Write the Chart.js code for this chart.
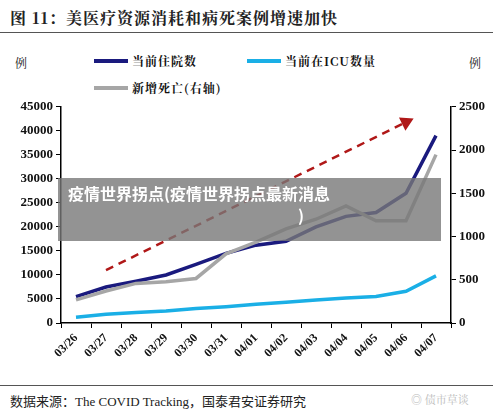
<!DOCTYPE html>
<html>
<head>
<meta charset="utf-8">
<script src="https://cdn.jsdelivr.net/npm/chart.js@4"></script>
<style>
    body { margin: 0; width: 500px; height: 419px; background: #fff; position: relative; overflow: hidden; font-family: "Noto Serif CJK SC", "Noto Sans CJK SC", serif; }
    .title { position: absolute; left: 10px; top: 6px; font-size: 16px; font-weight: bold; color: #222; letter-spacing: 1px; }
    .rule { position: absolute; left: 0; width: 493px; height: 1px; background: #555; }
    .unit { position: absolute; top: 54px; font-size: 12px; color: #222; }
    .legend { position: absolute; font-size: 12px; color: #111; display: flex; align-items: center; letter-spacing: 1px; font-weight: bold; }
    .legend span.sw { display: inline-block; width: 34px; height: 4px; margin-right: 4px; }
    .source { position: absolute; left: 10px; top: 391px; font-size: 13px; color: #222; font-family: "Liberation Serif", "Noto Sans CJK SC", serif; }
    .wm { position: absolute; left: 411px; top: 391px; font-size: 11px; color: #bbb; }
    #wrap { position: absolute; left: 0; top: 96px; width: 500px; height: 284px; }
    .band { position: absolute; left: 58px; top: 178px; width: 383px; height: 63px; background: rgba(120,120,120,0.8); }
    .band div { color: #fff; font-weight: bold; font-size: 16px; font-family: "Noto Sans CJK SC", sans-serif; padding-left: 10px; line-height: 22px; margin-top: 4px; }
</style>
</head>
<body>
<div class="title">图 11：美医疗资源消耗和病死案例增速加快</div>
<div class="rule" style="top:32px"></div>
<div class="unit" style="left:15px">例</div>
<div class="unit" style="left:469px">例</div>
<div class="legend" style="left:94px; top:52px"><span class="sw" style="background:#1a1a7e"></span>当前住院数</div>
<div class="legend" style="left:247px; top:52px"><span class="sw" style="background:#1aafe6"></span>当前在ICU数量</div>
<div class="legend" style="left:94px; top:79px"><span class="sw" style="background:#a6a6a6"></span>新增死亡(右轴)</div>
<div id="wrap"><canvas id="chart"></canvas></div>
<div class="band"><div>疫情世界拐点(疫情世界拐点最新消息<br><span style="padding-left:230px">)</span></div></div>
<div class="rule" style="top:385px"></div>
<div class="source">数据来源：The COVID Tracking，国泰君安证券研究</div>
<div class="wm">◎ 债市草谈</div>
<script>
const labels = ['03/26', '03/27', '03/28', '03/29', '03/30', '03/31', '04/01', '04/02', '04/03', '04/04', '04/05', '04/06', '04/07'];
const hospitalized = [5500, 7500, 8700, 10000, 12200, 14500, 16200, 17000, 20000, 22200, 23000, 27000, 39000];
const icu = [1200, 1800, 2200, 2500, 3000, 3400, 3900, 4300, 4800, 5200, 5500, 6600, 9800];
const newDeaths = [267, 370, 458, 477, 515, 800, 935, 1088, 1200, 1355, 1183, 1183, 1947];
const trend = [null, 11000, null, null, null, null, null, null, null, null, null, 41800, null];

Chart.defaults.font.family = "'Liberation Serif', serif";
Chart.defaults.color = '#111';

document.addEventListener("DOMContentLoaded", () => {
    new Chart(document.getElementById('chart'), {
        type: 'line',
        data: {
            labels: labels,
            datasets: [
                { data: trend, yAxisID: 'y', borderColor: '#b01818', borderWidth: 2.5, borderDash: [8, 6], spanGaps: true,
                  pointRadius: [0, 0, 0, 0, 0, 0, 0, 0, 0, 0, 0, 6, 0], pointStyle: 'triangle', pointRotation: 64,
                  pointBackgroundColor: '#b01818', pointBorderColor: '#b01818', tension: 0 },
                { data: newDeaths, yAxisID: 'y2', borderColor: '#a6a6a6', borderWidth: 3.5, pointRadius: 0, tension: 0 },
                { data: icu, yAxisID: 'y', borderColor: '#1aafe6', borderWidth: 3.5, pointRadius: 0, tension: 0 },
                { data: hospitalized, yAxisID: 'y', borderColor: '#1a1a7e', borderWidth: 3.5, pointRadius: 0, tension: 0 }
            ]
        },
        options: {
            responsive: true,
            maintainAspectRatio: false,
            animation: false,
            layout: { padding: { top: 8, right: 0 } },
            plugins: { legend: { display: false }, tooltip: { enabled: false } },
            scales: {
                x: {
                    offset: true,
                    grid: { display: true, drawOnChartArea: false, offset: true, color: '#000', tickLength: 5 },
                    border: { color: '#000', width: 1.5 },
                    ticks: { maxRotation: 45, minRotation: 45, font: { size: 12, weight: 'bold' } },
                    afterFit: (s) => { s.height = 57; }
                },
                y: {
                    min: 0, max: 45000,
                    ticks: { stepSize: 5000, font: { size: 13, weight: 'bold' }, callback: (v) => String(v) },
                    grid: { drawOnChartArea: false, color: '#000', tickLength: 5 },
                    border: { color: '#000', width: 1.5 },
                    afterFit: (s) => { s.width = 61; }
                },
                y2: {
                    position: 'right',
                    min: 0, max: 2500,
                    ticks: { stepSize: 500, font: { size: 13, weight: 'bold' }, callback: (v) => String(v) },
                    grid: { drawOnChartArea: false, color: '#000', tickLength: 5 },
                    border: { color: '#000', width: 1.5 },
                    afterFit: (s) => { s.width = 49; }
                }
            }
        }
    });
});
</script>
</body>
</html>
